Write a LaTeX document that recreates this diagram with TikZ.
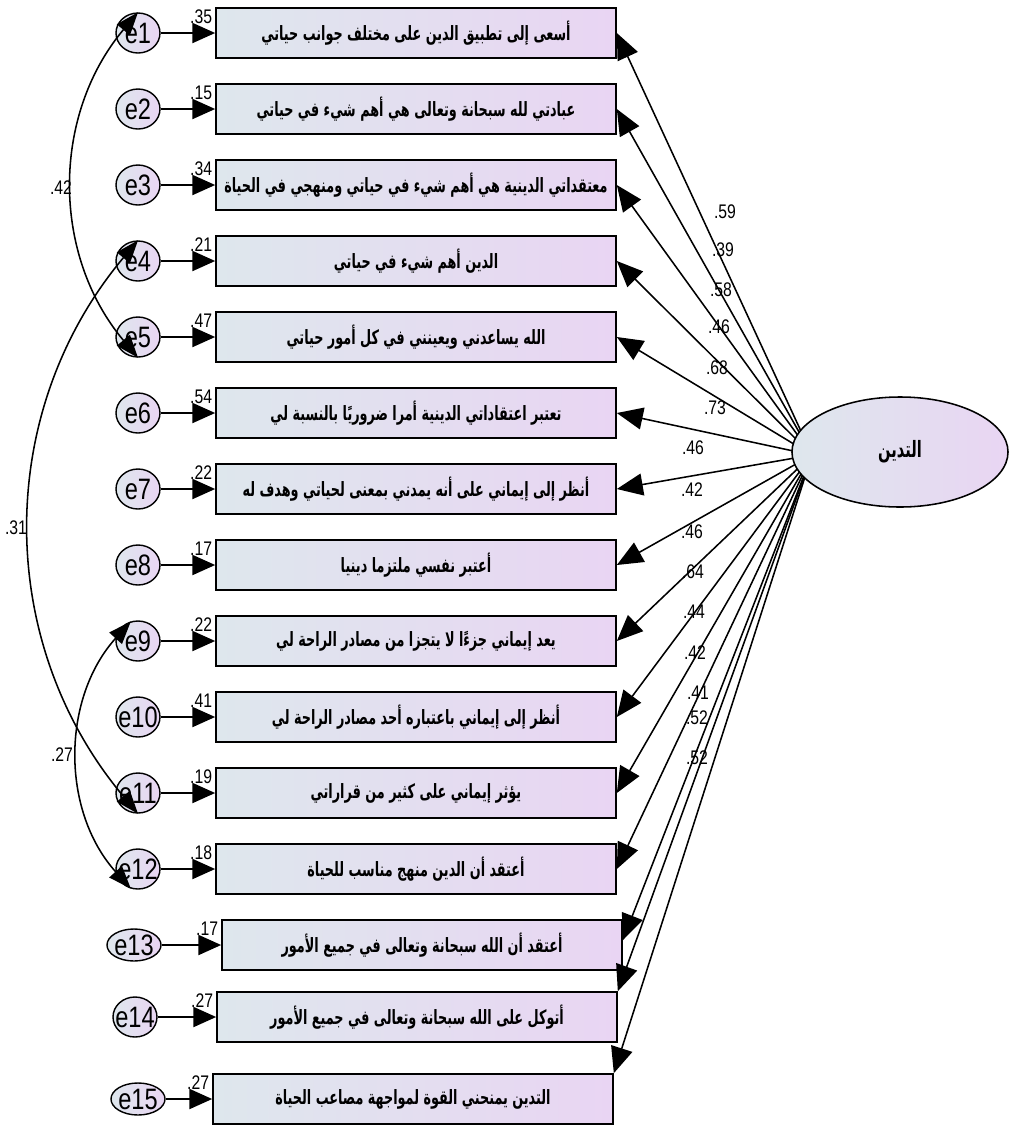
\documentclass[tikz,border=0pt]{standalone}
\usepackage{fontspec}
\usetikzlibrary{shapes.geometric,arrows.meta}
\TeXXeTstate=1
\newfontfamily\arabicfont[Script=Arabic,FakeStretch=0.65]{DejaVu Sans}
\newfontfamily\numfont[FakeStretch=0.8]{Liberation Sans}
\definecolor{shadeL}{RGB}{222,231,237}
\definecolor{shadeR}{RGB}{233,213,243}
\newcommand{\elab}[1]{\makebox[0pt]{#1}}

\begin{document}
\begin{tikzpicture}[
    x=0.025cm, y=0.025cm,
    item/.style={draw,line width=1.1pt,minimum width=10cm,minimum height=1.25cm,
                 inner sep=0pt,left color=shadeL,right color=shadeR,
                 font=\arabicfont\bfseries\fontsize{14}{16}\selectfont},
    err/.style={ellipse,draw,line width=1pt,minimum width=1.1cm,minimum height=1cm,
                inner sep=0pt,left color=shadeL,right color=shadeR,
                font=\numfont\fontsize{21}{21}\selectfont},
    wideerr/.style={err,minimum width=1.35cm,minimum height=0.8cm},
    latent/.style={ellipse,draw,line width=1.1pt,minimum width=5.4cm,minimum height=2.75cm,
                   inner sep=0pt,left color=shadeL,right color=shadeR,
                   font=\arabicfont\bfseries\fontsize{16}{18}\selectfont},
    est/.style={inner sep=0pt,font=\numfont\fontsize{14}{14}\selectfont},
    errpath/.style={-{Triangle[length=0.57cm,width=0.5cm]},line width=1.4pt},
    loadpath/.style={-{Triangle[length=0.65cm,width=0.55cm]},line width=1.1pt},
    covpath/.style={{Triangle[length=0.57cm,width=0.42cm]}-{Triangle[length=0.57cm,width=0.42cm]},
                    line width=1.1pt}
  ]
  \useasboundingbox (0,0) rectangle (1010,-1127);

  %% ── Observed items ────────────────────────────────────────────────────────
  \node[item] (b1)  at (416,-33)   {\beginR أسعى إلى تطبيق الدين على مختلف جوانب حياتي\endR};
  \node[item] (b2)  at (416,-109)  {\beginR عبادتي لله سبحانة وتعالى هي أهم شيء في حياتي\endR};
  \node[item] (b3)  at (416,-185)  {\beginR معتقداتي الدينية هي أهم شيء في حياتي ومنهجي في الحياة\endR};
  \node[item] (b4)  at (416,-261)  {\beginR الدين أهم شيء في حياتي\endR};
  \node[item] (b5)  at (416,-337)  {\beginR الله يساعدني ويعينني في كل أمور حياتي\endR};
  \node[item] (b6)  at (416,-413)  {\beginR تعتبر اعتقاداتي الدينية أمرا ضروريًا بالنسبة لي\endR};
  \node[item] (b7)  at (416,-489)  {\beginR أنظر إلى إيماني على أنه يمدني بمعنى لحياتي وهدف له\endR};
  \node[item] (b8)  at (416,-565)  {\beginR أعتبر نفسي ملتزما دينيا\endR};
  \node[item] (b9)  at (416,-641)  {\beginR يعد إيماني جزءًا لا يتجزا من مصادر الراحة لي\endR};
  \node[item] (b10) at (416,-717)  {\beginR أنظر إلى إيماني باعتباره أحد مصادر الراحة لي\endR};
  \node[item] (b11) at (416,-793)  {\beginR يؤثر إيماني على كثير من قراراتي\endR};
  \node[item] (b12) at (416,-869)  {\beginR أعتقد أن الدين منهج مناسب للحياة\endR};
  \node[item] (b13) at (422,-945)  {\beginR أعتقد أن الله سبحانة وتعالى في جميع الأمور\endR};
  \node[item] (b14) at (417,-1017) {\beginR أتوكل على الله سبحانة وتعالى في جميع الأمور\endR};
  \node[item] (b15) at (413,-1099) {\beginR التدين يمنحني القوة لمواجهة مصاعب الحياة\endR};

  %% ── Error terms ───────────────────────────────────────────────────────────
  \node[err] (e1)  at (138,-33)  {\elab{e1}};
  \node[err] (e2)  at (138,-109) {\elab{e2}};
  \node[err] (e3)  at (138,-185) {\elab{e3}};
  \node[err] (e4)  at (138,-261) {\elab{e4}};
  \node[err] (e5)  at (138,-337) {\elab{e5}};
  \node[err] (e6)  at (138,-413) {\elab{e6}};
  \node[err] (e7)  at (138,-489) {\elab{e7}};
  \node[err] (e8)  at (138,-565) {\elab{e8}};
  \node[err] (e9)  at (138,-641) {\elab{e9}};
  \node[err] (e10) at (138,-717) {\elab{e10}};
  \node[err] (e11) at (138,-793) {\elab{e11}};
  \node[err] (e12) at (138,-869) {\elab{e12}};
  \node[wideerr] (e13) at (134,-945)  {\elab{e13}};
  \node[err]     (e14) at (135,-1017) {\elab{e14}};
  \node[wideerr] (e15) at (138,-1099) {\elab{e15}};

  \foreach \i in {1,...,15}
    \draw[errpath] (e\i) -- (b\i);

  %% ── Squared multiple correlations ─────────────────────────────────────────
  \foreach \i/\r in {1/.35,2/.15,3/.34,4/.21,5/.47,6/.54,7/.22,8/.17,
                     9/.22,10/.41,11/.19,12/.18,13/.17,14/.27,15/.27}
    \node[est,anchor=north east] (r\i) at ([xshift=-0.07cm,yshift=-0.05cm]b\i.north west) {\r};

  %% ── Error covariances ─────────────────────────────────────────────────────
  \draw[covpath] (e1.north) to[out=230,in=130] (e5.south);
  \draw[covpath] (e4.north) to[out=230,in=130] (e11.south);
  \draw[covpath] (e9.110) to[out=228,in=132] (e12.250);
  \node[est] (c15)  at (61,-188) {.42};
  \node[est] (c411) at (16,-528) {.31};
  \node[est] (c912) at (62,-755) {.27};

  %% ── Loadings ──────────────────────────────────────────────────────────────
  \coordinate (hub) at (812,-455);
  \foreach \i in {1,...,12}
    \draw[loadpath] (hub) -- (b\i.east);
  \draw[loadpath] (hub) -- ([yshift=0.12cm]b13.east);
  \draw[loadpath] (hub) -- (b14.north east);
  \draw[loadpath] (hub) -- (b15.north east);

  \node[latent] (lat) at (900,-452) {\beginR التدين\endR};

  \node[est] (l1)  at (725,-212) {.59};
  \node[est] (l2)  at (723,-250) {.39};
  \node[est] (l3)  at (721,-290) {.58};
  \node[est] (l4)  at (719,-327) {.46};
  \node[est] (l5)  at (717,-368) {.68};
  \node[est] (l6)  at (715,-408) {.73};
  \node[est] (l7)  at (693,-448) {.46};
  \node[est] (l8)  at (692,-490) {.42};
  \node[est] (l9)  at (692,-532) {.46};
  \node[est] (l10) at (693,-572) {.64};
  \node[est] (l11) at (694,-612) {.44};
  \node[est] (l12) at (695,-653) {.42};
  \node[est] (l13) at (698,-693) {.41};
  \node[est] (l14) at (697,-718) {.52};
  \node[est] (l15) at (697,-758) {.52};

\end{tikzpicture}
\end{document}
